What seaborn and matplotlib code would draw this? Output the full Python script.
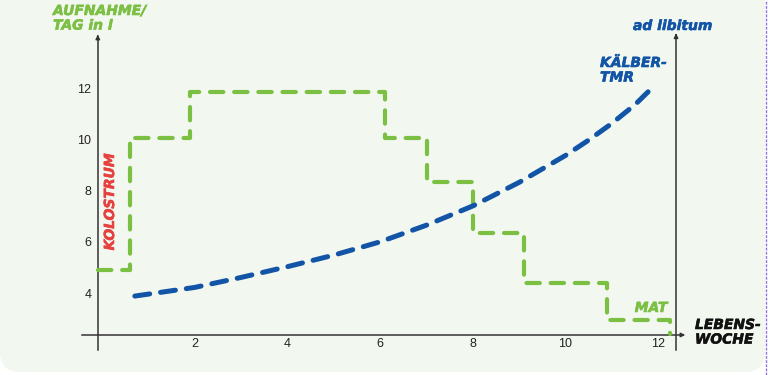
import matplotlib
matplotlib.use("Agg")
import matplotlib.pyplot as plt
from matplotlib.patches import FancyBboxPatch
from matplotlib.lines import Line2D
import matplotlib.patheffects as pe
import seaborn as sns
import pandas as pd

# ---- data ----
milk_weeks = [-0.1, 0.6, 1.9, 6.1, 7.0, 8.0, 9.1, 10.9, 12.25]
milk_litres = [4.9, 10.05, 11.85, 10.05, 8.35, 6.35, 4.4, 2.95, 2.4]

tmr_weeks = [0.7, 2, 3, 4, 5, 6, 7, 8, 9, 10, 10.5, 11, 11.5, 11.95]
tmr_intake = [3.88, 4.22, 4.61, 5.03, 5.48, 6.0, 6.65, 7.4, 8.32, 9.37, 9.97, 10.62, 11.35, 12.15]

x_ticks = [2, 4, 6, 8, 10, 12]
y_ticks = [4, 6, 8, 10, 12]

GREEN = "#7bbf43"
BLUE = "#1254a6"
RED = "#e5413f"
PANEL = "#f2f7f0"

sns.set_theme(style="white")
plt.rcParams["font.family"] = ["DejaVu Sans"]

fig = plt.figure(figsize=(7.68, 3.75), dpi=100)
fig.patch.set_facecolor("white")

# rounded light-green panel (pixel geometry in inches)
panel = FancyBboxPatch((0.0, 3.75 - 3.72), 7.65, 3.72 + 0.4,
                       boxstyle="round,pad=0,rounding_size=0.2",
                       transform=fig.dpi_scale_trans, facecolor=PANEL,
                       edgecolor="none", zorder=-2)
fig.patches.append(panel)
fig.lines.append(Line2D([766 / 768, 766 / 768], [0.0, 1.0], transform=fig.transFigure,
                        color="#8e74e3", lw=1.0, ls=(0, (2, 1)), zorder=-1))

ax = fig.add_axes([0, 0, 1, 1])
ax.set_facecolor("none")
ax.set_xlim(-2.212, 14.376)
ax.set_ylim(0.797, 15.445)

df_milk = pd.DataFrame({"Woche": milk_weeks, "Liter": milk_litres})
df_tmr = pd.DataFrame({"Woche": tmr_weeks, "Liter": tmr_intake})

sns.lineplot(data=df_milk, x="Woche", y="Liter", ax=ax, color=GREEN, lw=3.0,
             drawstyle="steps-post", dashes=False, estimator=None, zorder=3)
ax.lines[-1].set_linestyle((0, (3.2, 2.6)))
ax.lines[-1].set_dash_capstyle("round")
ax.lines[-1].set_dash_joinstyle("round")

sns.lineplot(data=df_tmr, x="Woche", y="Liter", ax=ax, color=BLUE, lw=3.6,
             dashes=False, estimator=None, zorder=4)
ax.lines[-1].set_linestyle((0, (3.0, 2.2)))
ax.lines[-1].set_dash_capstyle("round")
ax.lines[-1].set_dash_joinstyle("round")

# axes as spines
for s in ["left", "bottom", "right"]:
    ax.spines[s].set_visible(True)
    ax.spines[s].set_color("#333333")
    ax.spines[s].set_linewidth(1.1)
ax.spines["top"].set_visible(False)
ax.spines["left"].set_position(("data", -0.1))
ax.spines["left"].set_bounds(1.77, 14.0)
ax.spines["bottom"].set_position(("data", 2.36))
ax.spines["bottom"].set_bounds(-0.44, 12.55)
ax.spines["right"].set_position(("data", 12.39))
ax.spines["right"].set_bounds(1.77, 14.05)

# arrow heads
ax.annotate("", xy=(-0.1, 14.2), xytext=(-0.1, 13.9),
            arrowprops=dict(arrowstyle="-|>", color="#333333", lw=1.1, mutation_scale=6))
ax.annotate("", xy=(12.39, 14.25), xytext=(12.39, 13.95),
            arrowprops=dict(arrowstyle="-|>", color="#333333", lw=1.1, mutation_scale=6))
ax.annotate("", xy=(12.65, 2.36), xytext=(12.45, 2.36),
            arrowprops=dict(arrowstyle="-|>", color="#333333", lw=1.1, mutation_scale=6))

ax.set_xticks(x_ticks)
ax.set_xticklabels([str(t) for t in x_ticks])
ax.set_yticks(y_ticks)
ax.set_yticklabels([str(t) for t in y_ticks])
ax.tick_params(axis="x", length=0, pad=2.5, labelsize=9, colors="#222222",
               bottom=True, top=False)
ax.tick_params(axis="y", length=0, pad=4.5, labelsize=9, colors="#222222",
               left=True, right=False, labelright=False)
for lab in ax.get_xticklabels() + ax.get_yticklabels():
    lab.set_family(["Liberation Sans", "DejaVu Sans"])
ax.set_xlabel("")
ax.set_ylabel("")

def T(px, py, s, color, ha="left", va="top", size=10.5, rot=0, ls=1.05):
    ax.text(px / 768, 1 - py / 375, s, transform=ax.transAxes, color=color,
            ha=ha, va=va, fontsize=size, fontweight="heavy", fontstyle="italic",
            rotation=rot, linespacing=ls, zorder=6,
            path_effects=[pe.withStroke(linewidth=0.4, foreground=color)])

T(53, 4, "AUFNAHME/\nTAG in l", GREEN, size=10)
T(633, 26, "ad libitum", BLUE, va="center", size=10)
T(600, 56, "KÄLBER-\nTMR", BLUE, size=10)
T(110, 202, "KOLOSTRUM", RED, ha="center", va="center", size=10, rot=90)
T(651, 308, "MAT", GREEN, ha="center", va="center", size=10)
T(695, 318, "LEBENS-\nWOCHE", "#111111", size=10)

fig.savefig("out.png", dpi=100, facecolor=fig.get_facecolor())
